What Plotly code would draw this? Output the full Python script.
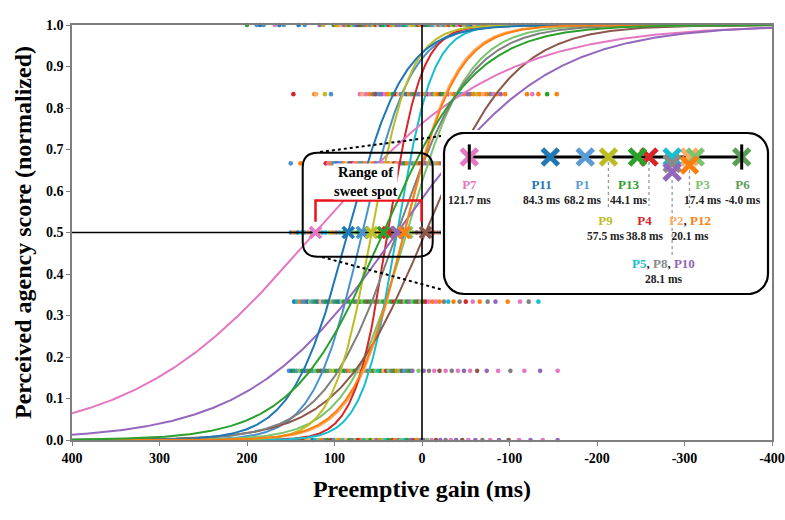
import numpy as np
import plotly.graph_objects as go

# ---------------- data ----------------
NAMES = ["P1", "P2", "P3", "P4", "P5", "P6", "P7", "P8", "P9", "P10", "P11", "P12", "P13"]
THRESHOLDS = [68.2, 20.1, 17.4, 38.8, 28.1, -4.0, 121.7, 28.1, 57.5, 28.1, 84.3, 20.1, 44.1]
SLOPES = [28, 29, 35, 19, 20, 50, 104, 42, 22, 85, 32, 30, 52]
COLORS = ["#4a92cc", "#ffac66", "#7cc46e", "#d62728", "#17becf", "#8c564b", "#e377c2",
          "#7f7f7f", "#bcbd22", "#9467bd", "#1f77b4", "#ff7f0e", "#2ca02c"]
INSET_COLORS = ["#5b9bd5", "#ffac66", "#7cc46e", "#d62728", "#17becf", "#5c9e57", "#e377c2",
                "#8a8a8a", "#bcbd22", "#9467bd", "#1f77b4", "#ff7f0e", "#2ca02c"]

X_TICKS = [400, 300, 200, 100, 0, -100, -200, -300, -400]
Y_TICKS = [0.0, 0.1, 0.2, 0.3, 0.4, 0.5, 0.6, 0.7, 0.8, 0.9, 1.0]

# observed responses: (preemptive gain ms, participant number) per score level
DOTS_0 = [(153, 5), (150, 12), (146, 1), (143, 8), (139, 13), (136, 4), (132, 9), (129, 2), (125, 11),
          (122, 5), (118, 3), (115, 12), (111, 8), (108, 13), (104, 4), (101, 1), (97, 9), (94, 12),
          (90, 5), (87, 2), (83, 13), (80, 8), (76, 3), (73, 4), (69, 12), (66, 5), (62, 9), (59, 13),
          (55, 2), (52, 8), (48, 12), (45, 3), (41, 5), (38, 13), (34, 6), (31, 12), (27, 8), (24, 3),
          (20, 5), (17, 13), (13, 10), (10, 6), (6, 12), (2, 8), (-2, 10), (-6, 3), (-11, 7), (-16, 6),
          (-21, 10), (-27, 8), (-33, 7), (-39, 10), (-46, 6), (-53, 7), (-61, 10), (-69, 8), (-78, 7),
          (-88, 10), (-99, 6), (-111, 7), (-124, 10), (-138, 7), (-155, 10)]
DOTS_1 = [(152, 1), (149, 11), (146, 13), (143, 1), (140, 3), (137, 13), (134, 11), (131, 8), (128, 13),
          (125, 1), (122, 3), (119, 13), (116, 6), (113, 11), (110, 13), (107, 8), (104, 3), (101, 9),
          (98, 13), (95, 1), (92, 3), (89, 13), (86, 8), (83, 12), (80, 3), (77, 13), (74, 6), (71, 2),
          (68, 13), (65, 3), (62, 8), (59, 12), (56, 13), (53, 3), (50, 5), (47, 13), (44, 2), (41, 6),
          (38, 3), (35, 8), (32, 13), (29, 12), (26, 3), (23, 6), (20, 5), (17, 8), (14, 13), (11, 10),
          (4, 3), (-2, 10), (-8, 8), (-14, 7), (-20, 6), (-27, 7), (-34, 8), (-41, 7), (-48, 10),
          (-55, 7), (-63, 6), (-74, 10), (-87, 7), (-101, 8), (-117, 7), (-135, 10), (-155, 7)]
DOTS_2 = [(146, 11), (143, 5), (140, 12), (137, 1), (134, 8), (131, 11), (128, 3), (125, 1), (122, 13),
          (119, 11), (116, 2), (113, 1), (110, 13), (107, 11), (104, 9), (101, 1), (98, 13), (95, 11),
          (92, 3), (89, 13), (86, 1), (83, 13), (80, 3), (77, 13), (74, 10), (71, 13), (68, 3), (65, 13),
          (62, 6), (59, 13), (56, 3), (53, 13), (50, 8), (47, 3), (44, 13), (41, 12), (38, 3), (35, 13),
          (32, 4), (29, 3), (26, 13), (23, 6), (20, 3), (17, 13), (14, 10), (11, 3), (8, 13), (5, 6),
          (2, 3), (-1, 13), (-4, 4), (-8, 7), (-12, 12), (-16, 7), (-20, 12), (-25, 8), (-30, 5),
          (-36, 12), (-43, 8), (-50, 4), (-58, 7), (-66, 12), (-75, 8), (-84, 10), (-98, 12),
          (-112, 7), (-122, 8), (-133, 5)]
DOTS_3 = [(150, 1), (146, 12), (142, 11), (138, 5), (134, 1), (130, 12), (126, 11), (122, 8), (118, 12),
          (114, 1), (110, 5), (106, 3), (102, 12), (98, 8), (94, 1), (90, 13), (86, 11), (82, 12),
          (78, 3), (74, 13), (70, 8), (66, 12), (62, 3), (58, 1), (54, 13), (50, 12), (46, 3), (42, 8),
          (38, 6), (34, 13), (30, 12), (26, 3), (22, 6), (18, 13), (14, 12), (10, 3), (6, 6), (2, 8),
          (-2, 13), (-6, 3), (-10, 6), (-14, 12), (-18, 7), (-22, 13), (-26, 8), (-30, 10), (-40, 6),
          (-50, 7), (-60, 10), (-75, 6), (-90, 7), (-105, 10), (-120, 6), (-135, 7), (-150, 10)]
DOTS_4 = [(150, 1), (139, 12), (110, 4), (107, 7), (104, 12), (101, 1), (98, 11), (95, 10), (92, 1),
          (89, 12), (86, 2), (83, 11), (80, 4), (77, 7), (74, 12), (71, 1), (68, 8), (65, 12), (62, 7),
          (59, 2), (56, 12), (53, 10), (50, 1), (47, 12), (44, 7), (41, 8), (38, 12), (35, 2), (32, 6),
          (29, 12), (26, 7), (23, 10), (20, 13), (17, 12), (14, 7), (11, 8), (8, 3), (5, 12), (2, 6),
          (-1, 7), (-4, 10), (-7, 12), (-10, 8), (-13, 7), (-16, 3), (-19, 12), (-22, 10), (-25, 6),
          (-28, 7), (-40, 12), (-55, 8), (-70, 10), (-90, 7), (-110, 6), (-130, 10), (-150, 7)]
DOTS_5 = [(147, 4), (123, 12), (121, 2), (111, 9), (104, 1), (71, 7), (68, 2), (64, 7), (60, 12),
          (56, 8), (53, 6), (49, 1), (46, 10), (42, 7), (39, 12), (36, 9), (33, 13), (30, 4), (27, 2),
          (24, 1), (21, 7), (18, 11), (15, 12), (12, 8), (9, 13), (6, 5), (3, 10), (0, 2), (-3, 12),
          (-6, 4), (-9, 7), (-12, 8), (-15, 9), (-18, 12), (-21, 6), (-24, 13), (-27, 3), (-30, 10),
          (-33, 2), (-36, 12), (-39, 8), (-42, 7), (-45, 5), (-48, 12), (-52, 10), (-55, 8), (-59, 12),
          (-63, 9), (-66, 12), (-70, 2), (-74, 12), (-78, 8), (-82, 7), (-86, 12), (-90, 10),
          (-95, 12), (-120, 12), (-126, 7), (-133, 12), (-143, 13), (-154, 12)]
DOTS_6 = [(200, 13), (189, 1), (185, 11), (181, 1), (168, 7), (163, 11), (158, 1), (141, 11), (134, 1),
          (117, 10), (113, 9), (101, 13), (98, 12), (95, 9), (92, 2), (89, 10), (86, 12), (83, 13),
          (80, 9), (77, 1), (74, 11), (71, 4), (68, 13), (65, 8), (62, 12), (59, 1), (56, 9), (53, 6),
          (50, 2), (47, 11), (44, 13), (41, 5), (38, 4), (35, 12), (32, 3), (29, 8), (26, 10), (23, 1),
          (20, 13), (17, 5), (14, 2), (11, 9), (8, 3), (5, 6), (2, 12), (-1, 4), (-4, 11), (-7, 13),
          (-10, 8), (-13, 5), (-16, 2), (-19, 10), (-22, 3), (-25, 1), (-28, 12), (-31, 6), (-34, 9),
          (-37, 13), (-40, 7), (-44, 4), (-48, 3), (-52, 8), (-56, 11), (-60, 2), (-64, 5), (-68, 12),
          (-72, 13), (-76, 10), (-80, 6), (-84, 1), (-88, 3), (-92, 9), (-96, 7), (-100, 4), (-105, 12),
          (-110, 8), (-115, 13), (-120, 2), (-125, 6), (-130, 10), (-136, 5), (-142, 3), (-148, 11),
          (-155, 7)]
DOT_ROWS = [DOTS_0, DOTS_1, DOTS_2, DOTS_3, DOTS_4, DOTS_5, DOTS_6]
SCORE_LEVELS = [0, 1 / 6, 2 / 6, 3 / 6, 4 / 6, 5 / 6, 1]

# ---------------- style / layout helpers ----------------
SERIF = "Liberation Serif, Times New Roman, serif"
W, H = 785, 520
L, R, T, B = 72, 13, 25, 80
PW, PH = W - L - R, H - T - B


def gx(px):  # main-axis gain at pixel x
    return 400 - (px - L) * 800 / PW


def vy(py):  # main-axis score at pixel y
    return (T + PH - py) / PH


# inset geometry (pixels)
IN_X0, IN_X1, IN_Y0, IN_Y1, IN_R = 444, 768, 133, 294, 20
D_X0, D_X1, D_Y0, D_Y1 = 441, 771, 130, 297
P_LEFT, P_RIGHT = 469.3, 741.7  # pixel ends of inset line
t_max, t_min = max(THRESHOLDS), min(THRESHOLDS)
K = (P_RIGHT - P_LEFT) / (t_max - t_min)


def ix(px):  # inset-axis gain at pixel x
    return t_max - (px - P_LEFT) / K


ROW = -157

fig = go.Figure()

# response dots
dx, dy, dc = [], [], []
for lvl, row in zip(SCORE_LEVELS, DOT_ROWS):
    for g, p in row:
        dx.append(g)
        dy.append(lvl)
        dc.append(COLORS[p - 1])
fig.add_trace(go.Scatter(x=dx, y=dy, mode="markers", cliponaxis=False,
                         marker=dict(size=4.6, color=dc, line=dict(width=0)), hoverinfo="skip"))

# fitted psychometric curves
g = np.linspace(-400, 400, 801)
for name, t, s, c in zip(NAMES, THRESHOLDS, SLOPES, COLORS):
    fig.add_trace(go.Scatter(x=g, y=1 / (1 + np.exp((g - t) / s)), mode="lines", name=name,
                             line=dict(color=c, width=2)))

# reference lines
fig.add_trace(go.Scatter(x=[400, -40], y=[0.5, 0.5], mode="lines", line=dict(color="black", width=1.6)))
fig.add_trace(go.Scatter(x=[0, 0], y=[0, 1], mode="lines", line=dict(color="black", width=1.6)))

# dotted connectors to inset
fig.add_trace(go.Scatter(x=[gx(320), gx(472)], y=[vy(152), vy(132)], mode="lines",
                         line=dict(color="black", width=2, dash="dot")))
fig.add_trace(go.Scatter(x=[gx(322), gx(458)], y=[vy(257), vy(294)], mode="lines",
                         line=dict(color="black", width=2, dash="dot")))

# thresholds on the main plot
fig.add_trace(go.Scatter(x=THRESHOLDS, y=[0.5] * len(THRESHOLDS), mode="markers",
                         marker=dict(symbol="x-thin", size=11, color=COLORS,
                                     line=dict(width=3.8, color=COLORS))))

# ---------------- inset ----------------
def rounded(x0, x1, y0, y1, r, n=14):
    xs, ys = [], []
    for cx, cy, a0, a1 in [(x1 - r, y0 + r, -90, 0), (x1 - r, y1 - r, 0, 90),
                           (x0 + r, y1 - r, 90, 180), (x0 + r, y0 + r, 180, 270)]:
        a = np.radians(np.linspace(a0, a1, n))
        xs += list(cx + r * np.cos(a))
        ys += list(cy + r * np.sin(a))
    xs.append(xs[0]); ys.append(ys[0])
    return xs, ys


bx, by = rounded(IN_X0, IN_X1, IN_Y0, IN_Y1, IN_R)
fig.add_trace(go.Scatter(x=[ix(v) for v in bx], y=[-v for v in by], xaxis="x2", yaxis="y2",
                         mode="lines", fill="toself", fillcolor="white",
                         line=dict(color="black", width=2.2)))
fig.add_trace(go.Scatter(x=[t_max, t_min], y=[ROW, ROW], xaxis="x2", yaxis="y2", mode="lines",
                         line=dict(color="black", width=3)))

# leader lines
STACK = {"P8": -6.5, "P10": -15, "P12": -8}
LEADERS = {"P9": (-162, -208), "P4": (-162, -206), "P12": (-170, -208), "P10": (-180, -255)}
lx, ly = [], []
for nm, (a, b) in LEADERS.items():
    t = THRESHOLDS[NAMES.index(nm)]
    lx += [t, t, None]
    ly += [a, b, None]
fig.add_trace(go.Scatter(x=lx, y=ly, xaxis="x2", yaxis="y2", mode="lines",
                         line=dict(color="#9a9a9a", width=1.3, dash="dot")))

order = [n for n in NAMES if n not in STACK] + ["P8", "P10", "P12"]
ox = [THRESHOLDS[NAMES.index(n)] for n in order]
oy = [ROW + STACK.get(n, 0) for n in order]
oc = [INSET_COLORS[NAMES.index(n)] for n in order]
fig.add_trace(go.Scatter(x=ox, y=oy, xaxis="x2", yaxis="y2", mode="markers",
                         marker=dict(symbol="x-thin", size=16, color=oc, line=dict(width=5, color=oc))))
fig.add_trace(go.Scatter(x=[t_max, t_min], y=[ROW, ROW], xaxis="x2", yaxis="y2", mode="markers",
                         marker=dict(symbol="line-ns", size=18, line=dict(width=3, color="black"))))


def cspan(n):
    return f"<span style='color:{INSET_COLORS[NAMES.index(n)]};font-size:13px'>{n}</span>"


LABELS = [  # (names, anchor participant, row center y, xshift)
    (["P7"], "P7", -191.5, 0), (["P11"], "P11", -191.5, -8), (["P1"], "P1", -191.5, -2),
    (["P13"], "P13", -191.5, -8), (["P3"], "P3", -191.5, 8), (["P6"], "P6", -191.5, 1),
    (["P9"], "P9", -227.5, -2), (["P4"], "P4", -227.5, -4), (["P2", "P12"], "P2", -227.5, 1),
    (["P5", "P8", "P10"], "P5", -270.5, -9),
]
annotations = []
for names, anchor, yc, xs in LABELS:
    t = THRESHOLDS[NAMES.index(anchor)]
    txt = "<span style='color:#222;font-size:13px'>, </span>".join(cspan(n) for n in names) + f"<br>{t:.1f} ms"
    annotations.append(dict(x=t, y=yc, xref="x2", yref="y2", text=txt, showarrow=False, xshift=xs,
                            align="center", font=dict(family=SERIF, size=11.5, color="#222", weight="bold")))

annotations.append(dict(x=gx(365), y=vy(181.5), xref="x", yref="y", text="Range of<br>sweet spot",
                        showarrow=False, bgcolor="white", borderpad=0,
                        font=dict(family=SERIF, size=14.5, color="black", weight="bold")))

# main "range" box and red bracket
rx, ry = 15 * 800 / PW, 15 / PH
x0, x1, y0, y1 = gx(302.7), gx(432.7), vy(256.7), vy(152.7)
box_path = (f"M {x0 - rx},{y1} L {x1 + rx},{y1} Q {x1},{y1} {x1},{y1 - ry} "
            f"L {x1},{y0 + ry} Q {x1},{y0} {x1 + rx},{y0} L {x0 - rx},{y0} "
            f"Q {x0},{y0} {x0},{y0 + ry} L {x0},{y1 - ry} Q {x0},{y1} {x0 - rx},{y1} Z")
shapes = [
    dict(type="path", path=box_path, xref="x", yref="y", line=dict(color="black", width=2), layer="above"),
    dict(type="path", xref="x", yref="y", layer="above", line=dict(color="#e8141a", width=2.5),
         path=f"M {t_max},0.526 L {t_max},0.577 L 0.5,0.577 L 0.5,0.526"),
]

axis_font = dict(family=SERIF, size=14, color="black", weight="bold")
title_font = dict(family=SERIF, size=24, color="black", weight="bold")
fig.update_layout(
    width=W, height=H, margin=dict(l=L, r=R, t=T, b=B),
    plot_bgcolor="white", paper_bgcolor="white", showlegend=False,
    xaxis=dict(range=[400, -400], tickvals=X_TICKS, ticktext=[str(v) for v in X_TICKS],
               ticks="outside", ticklen=4, tickwidth=1.3, tickcolor="#7f7f7f",
               showline=True, linecolor="#7f7f7f", linewidth=1.5, mirror=True,
               showgrid=False, zeroline=False, tickfont=axis_font, automargin=False,
               title=dict(text="Preemptive gain (ms)", font=title_font, standoff=16)),
    yaxis=dict(range=[0, 1], tickvals=Y_TICKS, ticktext=[f"{v:.1f}" for v in Y_TICKS],
               ticks="outside", ticklen=4, tickwidth=1.3, tickcolor="#7f7f7f",
               showline=True, linecolor="#7f7f7f", linewidth=1.5, mirror=True,
               showgrid=False, zeroline=False, tickfont=axis_font, automargin=False,
               title=dict(text="Perceived agency score (normalized)", font=title_font, standoff=8)),
    xaxis2=dict(domain=[(D_X0 - L) / PW, (D_X1 - L) / PW], range=[ix(D_X0), ix(D_X1)],
                anchor="y2", visible=False, fixedrange=True),
    yaxis2=dict(domain=[(T + PH - D_Y1) / PH, (T + PH - D_Y0) / PH], range=[-D_Y1, -D_Y0],
                anchor="x2", visible=False, fixedrange=True),
    annotations=annotations, shapes=shapes,
)

fig.write_html("out.html")
